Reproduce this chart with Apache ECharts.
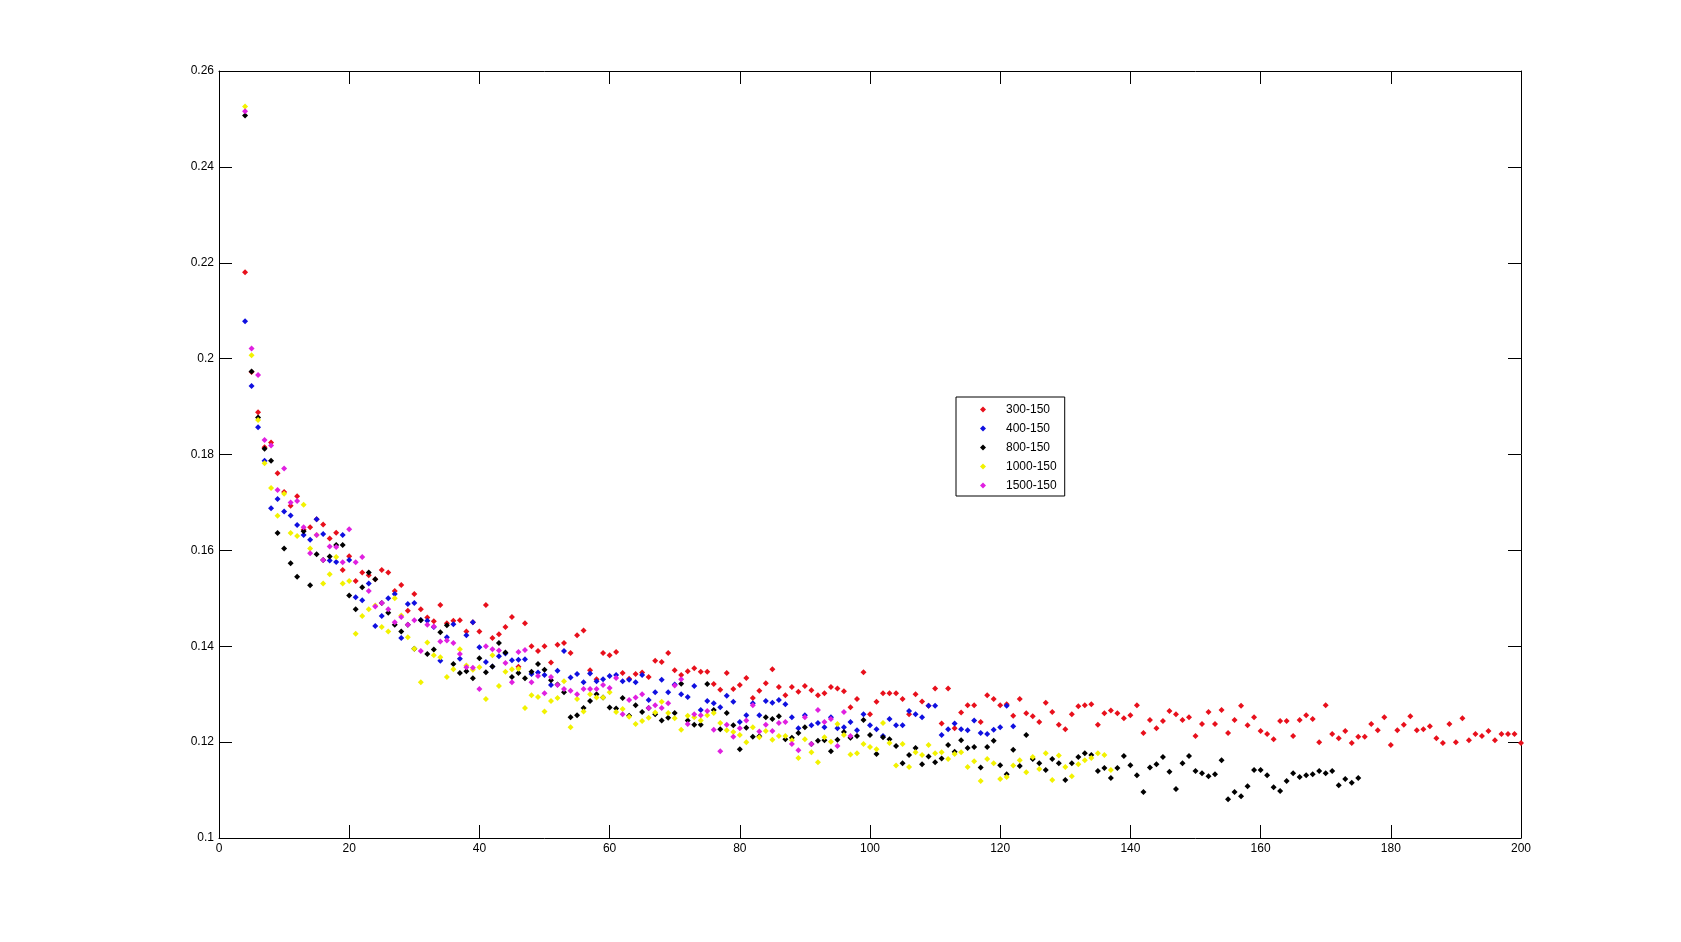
<!DOCTYPE html>
<html>
<head>
<meta charset="utf-8">
<script src="https://cdn.jsdelivr.net/npm/echarts@6/dist/echarts.min.js"></script>
<style>
html,body{margin:0;padding:0;background:#fff;}
#chart{width:1681px;height:942px;}
</style>
</head>
<body>
<div id="chart"></div>
<script>
// x positions are consecutive integers starting at xStart for each series
const xStart = 4;
const seriesNames = ['300-150', '400-150', '800-150', '1000-150', '1500-150'];
const xTicks = [0, 20, 40, 60, 80, 100, 120, 140, 160, 180, 200];
const yTicks = [0.1, 0.12, 0.14, 0.16, 0.18, 0.2, 0.22, 0.24, 0.26];

const red300 = [
0.2180,0.1972,0.1888,0.1815,0.1825,0.1761,0.1722,0.1693,0.1713,0.1643,
0.1648,0.1665,0.1654,0.1625,0.1637,0.1559,0.1588,0.1536,0.1554,0.1548,
0.1540,0.1559,0.1554,0.1515,0.1528,0.1474,0.1509,0.1477,0.1460,0.1452,
0.1486,0.1448,0.1453,0.1454,0.1431,0.1450,0.1431,0.1486,0.1417,0.1425,
0.1440,0.1461,0.1357,0.1448,0.1400,0.1390,0.1400,0.1366,0.1403,0.1407,
0.1386,0.1423,0.1433,0.1350,0.1331,0.1386,0.1381,0.1388,0.1344,0.1332,
0.1342,0.1345,0.1336,0.1370,0.1367,0.1386,0.1350,0.1340,0.1348,0.1354,
0.1347,0.1347,0.1321,0.1309,0.1344,0.1311,0.1319,0.1334,0.1292,0.1307,
0.1323,0.1352,0.1315,0.1298,0.1315,0.1305,0.1317,0.1308,0.1298,0.1302,
0.1315,0.1312,0.1306,0.1273,0.1290,0.1346,0.1258,0.1284,0.1302,0.1302,
0.1302,0.1290,0.1258,0.1300,0.1285,0.1276,0.1312,0.1239,0.1312,0.1229,
0.1262,0.1277,0.1277,0.1242,0.1298,0.1290,0.1277,0.1279,0.1255,0.1290,
0.1260,0.1254,0.1242,0.1282,0.1263,0.1236,0.1227,0.1258,0.1275,0.1277,
0.1279,0.1236,0.1260,0.1266,0.1260,0.1250,0.1256,0.1277,0.1219,0.1246,
0.1229,0.1244,0.1265,0.1258,0.1246,0.1252,0.1213,0.1238,0.1263,0.1238,
0.1267,0.1219,0.1246,0.1276,0.1235,0.1252,0.1223,0.1217,0.1206,0.1244,
0.1244,0.1213,0.1246,0.1256,0.1248,0.1200,0.1277,0.1217,0.1208,0.1223,
0.1198,0.1211,0.1211,0.1238,0.1225,0.1252,0.1194,0.1225,0.1236,0.1254,
0.1225,0.1227,0.1233,0.1208,0.1198,0.1238,0.1200,0.1250,0.1204,0.1217,
0.1213,0.1223,0.1204,0.1217,0.1217,0.1217,0.1198
];

const blue400 = [
0.2078,0.1943,0.1857,0.1787,0.1688,0.1707,0.1681,0.1673,0.1653,0.1632,
0.1622,0.1665,0.1634,0.1579,0.1576,0.1632,0.1580,0.1502,0.1496,0.1531,
0.1442,0.1463,0.1500,0.1509,0.1417,0.1488,0.1490,0.1455,0.1453,0.1440,
0.1370,0.1419,0.1446,0.1374,0.1423,0.1450,0.1398,0.1367,0.1358,0.1379,
0.1385,0.1371,0.1372,0.1373,0.1342,0.1345,0.1340,0.1319,0.1349,0.1390,
0.1335,0.1342,0.1325,0.1343,0.1327,0.1331,0.1338,0.1340,0.1327,0.1330,
0.1325,0.1340,0.1288,0.1304,0.1330,0.1304,0.1320,0.1300,0.1294,0.1317,
0.1267,0.1286,0.1281,0.1273,0.1297,0.1284,0.1242,0.1256,0.1281,0.1256,
0.1286,0.1282,0.1288,0.1279,0.1252,0.1229,0.1256,0.1235,0.1240,0.1231,
0.1252,0.1229,0.1231,0.1242,0.1225,0.1258,0.1235,0.1227,0.1213,0.1248,
0.1235,0.1235,0.1265,0.1258,0.1252,0.1276,0.1276,0.1215,0.1227,0.1239,
0.1227,0.1225,0.1245,0.1219,0.1217,0.1226,0.1231,0.1276,0.1233
];

const black800 = [
0.2507,0.1973,0.1877,0.1812,0.1787,0.1636,0.1604,0.1573,0.1545,0.1640,
0.1527,0.1592,0.1580,0.1587,0.1611,0.1611,0.1506,0.1477,0.1523,0.1554,
0.1540,0.1490,0.1470,0.1445,0.1431,0.1445,0.1395,0.1454,0.1384,0.1393,
0.1429,0.1444,0.1363,0.1344,0.1348,0.1333,0.1375,0.1346,0.1358,0.1407,
0.1387,0.1336,0.1344,0.1333,0.1347,0.1363,0.1351,0.1329,0.1320,0.1304,
0.1252,0.1256,0.1271,0.1286,0.1300,0.1293,0.1272,0.1270,0.1292,0.1255,
0.1277,0.1263,0.1271,0.1258,0.1245,0.1251,0.1261,0.1322,0.1245,0.1236,
0.1236,0.1321,0.1267,0.1227,0.1261,0.1235,0.1185,0.1230,0.1211,0.1212,
0.1252,0.1248,0.1254,0.1206,0.1209,0.1219,0.1231,0.1196,0.1203,0.1204,
0.1181,0.1205,0.1221,0.1209,0.1213,0.1246,0.1215,0.1175,0.1210,0.1206,
0.1192,0.1156,0.1173,0.1188,0.1154,0.1170,0.1158,0.1166,0.1194,0.1180,
0.1204,0.1188,0.1190,0.1147,0.1190,0.1203,0.1152,0.1133,0.1184,0.1150,
0.1215,0.1165,0.1156,0.1142,0.1165,0.1156,0.1121,0.1156,0.1169,0.1177,
0.1173,0.1140,0.1146,0.1125,0.1146,0.1171,0.1152,0.1131,0.1096,0.1147,
0.1154,0.1169,0.1138,0.1102,0.1156,0.1171,0.1140,0.1135,0.1129,0.1133,
0.1162,0.1081,0.1096,0.1087,0.1108,0.1142,0.1142,0.1131,0.1106,0.1098,
0.1119,0.1135,0.1127,0.1131,0.1133,0.1140,0.1135,0.1140,0.1110,0.1123,
0.1115,0.1125
];

const yellow1000 = [
0.2526,0.2007,0.1872,0.1782,0.1730,0.1672,0.1718,0.1636,0.1630,0.1695,
0.1604,0.1632,0.1531,0.1550,0.1586,0.1531,0.1536,0.1426,0.1463,0.1477,
0.1485,0.1440,0.1431,0.1500,0.1464,0.1419,0.1395,0.1325,0.1408,0.1381,
0.1377,0.1336,0.1352,0.1394,0.1360,0.1351,0.1356,0.1290,0.1381,0.1317,
0.1347,0.1352,0.1353,0.1271,0.1298,0.1294,0.1264,0.1286,0.1292,0.1327,
0.1231,0.1290,0.1264,0.1300,0.1293,0.1293,0.1304,0.1263,0.1269,0.1253,
0.1238,0.1244,0.1251,0.1262,0.1284,0.1261,0.1250,0.1226,0.1255,0.1252,
0.1245,0.1256,0.1261,0.1240,0.1225,0.1221,0.1215,0.1200,0.1231,0.1210,
0.1223,0.1205,0.1213,0.1213,0.1204,0.1167,0.1206,0.1179,0.1158,0.1210,
0.1201,0.1238,0.1215,0.1174,0.1177,0.1196,0.1190,0.1185,0.1240,0.1198,
0.1151,0.1196,0.1148,0.1179,0.1173,0.1194,0.1177,0.1179,0.1165,0.1175,
0.1179,0.1148,0.1160,0.1119,0.1165,0.1156,0.1123,0.1127,0.1151,0.1162,
0.1137,0.1169,0.1144,0.1177,0.1121,0.1172,0.1148,0.1129,0.1154,0.1162,
0.1167,0.1177,0.1173,0.1142
];

const magenta1500 = [
0.2516,0.2021,0.1966,0.1830,0.1819,0.1726,0.1771,0.1700,0.1703,0.1648,
0.1594,0.1632,0.1580,0.1608,0.1607,0.1575,0.1644,0.1575,0.1586,0.1515,
0.1483,0.1490,0.1477,0.1450,0.1461,0.1445,0.1454,0.1390,0.1445,0.1441,
0.1410,0.1412,0.1407,0.1384,0.1356,0.1355,0.1311,0.1400,0.1394,0.1391,
0.1365,0.1325,0.1388,0.1392,0.1325,0.1338,0.1302,0.1336,0.1319,0.1311,
0.1307,0.1300,0.1311,0.1311,0.1311,0.1319,0.1313,0.1334,0.1258,0.1288,
0.1293,0.1300,0.1271,0.1277,0.1271,0.1281,0.1318,0.1331,0.1238,0.1258,
0.1256,0.1265,0.1226,0.1181,0.1236,0.1211,0.1229,0.1245,0.1277,0.1222,
0.1236,0.1223,0.1240,0.1242,0.1196,0.1183,0.1252,0.1196,0.1267,0.1242,
0.1248,0.1192,0.1263,0.1213
];

const seriesValues = [red300, blue400, black800, yellow1000, magenta1500];
const seriesColors = ['#e8101c', '#1010e0', '#000000', '#f2f200', '#e020e0'];

function toPairs(vals) {
  return vals.map(function (v, i) { return [xStart + i, v]; });
}

const chart = echarts.init(document.getElementById('chart'), null, {renderer: 'canvas'});

const axisFont = {fontFamily: 'Liberation Sans, Arial, sans-serif', fontSize: 12, color: '#000'};

const option = {
  animation: false,
  backgroundColor: '#ffffff',
  grid: {left: 219, right: 160, top: 71, bottom: 104, containLabel: false},
  legend: {
    orient: 'vertical',
    left: 956,
    top: 397,
    padding: [3, 8, 1, 24],
    itemGap: 0,
    itemWidth: 6,
    itemHeight: 6,
    icon: 'diamond',
    borderColor: '#000',
    borderWidth: 1,
    backgroundColor: '#fff',
    data: seriesNames,
    textStyle: {fontFamily: 'Liberation Sans, Arial, sans-serif', fontSize: 12, color: '#000', lineHeight: 19, padding: [0, 0, 0, 15]}
  },
  xAxis: [
    {
      type: 'value', position: 'bottom', min: xTicks[0], max: xTicks[xTicks.length - 1], interval: 20,
      axisLine: {show: true, onZero: false, lineStyle: {color: '#000', width: 1}},
      axisTick: {show: true, inside: true, length: 13, lineStyle: {color: '#000'}},
      axisLabel: Object.assign({margin: 5}, axisFont),
      splitLine: {show: false}
    },
    {
      type: 'value', position: 'top', min: xTicks[0], max: xTicks[xTicks.length - 1], interval: 20,
      axisLine: {show: true, onZero: false, lineStyle: {color: '#000', width: 1}},
      axisTick: {show: true, inside: true, length: 13, lineStyle: {color: '#000'}},
      axisLabel: {show: false},
      splitLine: {show: false}
    }
  ],
  yAxis: [
    {
      type: 'value', position: 'left', min: yTicks[0], max: yTicks[yTicks.length - 1], interval: 0.02,
      axisLine: {show: true, onZero: false, lineStyle: {color: '#000', width: 1}},
      axisTick: {show: true, inside: true, length: 13, lineStyle: {color: '#000'}},
      axisLabel: Object.assign({margin: 5}, axisFont),
      splitLine: {show: false}
    },
    {
      type: 'value', position: 'right', min: yTicks[0], max: yTicks[yTicks.length - 1], interval: 0.02,
      axisLine: {show: true, onZero: false, lineStyle: {color: '#000', width: 1}},
      axisTick: {show: true, inside: true, length: 13, lineStyle: {color: '#000'}},
      axisLabel: {show: false},
      splitLine: {show: false}
    }
  ],
  series: seriesNames.map(function (name, k) {
    return {
      name: name,
      type: 'scatter',
      xAxisIndex: 0,
      yAxisIndex: 0,
      symbol: 'diamond',
      symbolSize: 6,
      itemStyle: {color: seriesColors[k], opacity: 1},
      data: toPairs(seriesValues[k])
    };
  })
};

chart.setOption(option);
</script>
</body>
</html>
